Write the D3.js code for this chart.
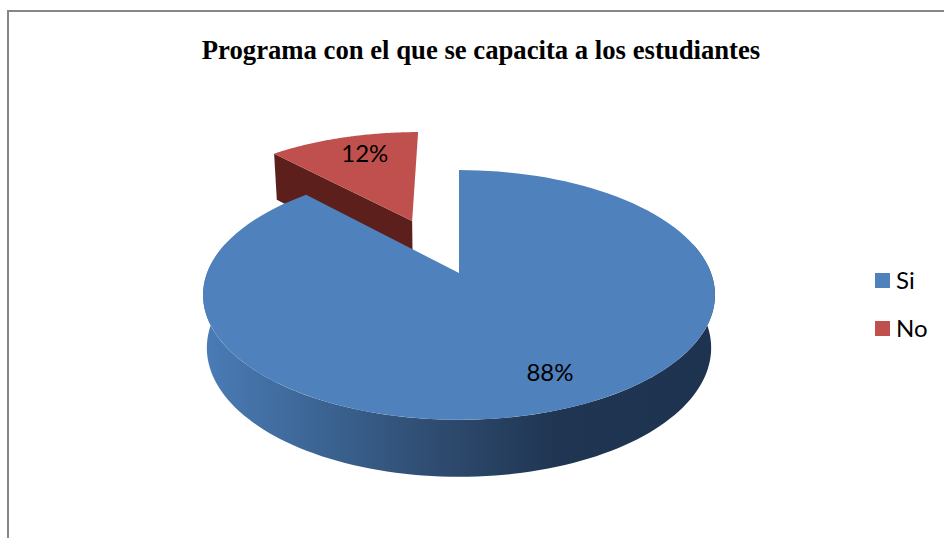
<!DOCTYPE html>
<html>
<head>
<meta charset="utf-8">
<style>
  body { margin: 0; background: #fff; }
  svg { display: block; }
  .title { font-family: "Liberation Serif", serif; font-weight: bold; font-size: 26.7px; fill: #000; text-anchor: middle; }
  .labels { font-family: Lato, sans-serif; font-size: 24px; fill: #000; text-anchor: middle; }
  .legend text { font-family: Lato, sans-serif; font-size: 24px; fill: #000; }
</style>
<script src="https://d3js.org/d3.v7.min.js"></script>
</head>
<body>
<svg width="944" height="538"></svg>
<script>
const categories = ["Si", "No"];
const values = [88, 12];
const labels = ["88%", "12%"];
const chartTitle = "Programa con el que se capacita a los estudiantes";

const svg = d3.select("svg");
const color = d3.scaleOrdinal().domain(categories).range(["#4f81bd", "#c0504d"]);
const wallColor = d3.scaleOrdinal().domain(categories).range(["url(#blueWall)", "#5c1f1b"]);

// pie sits on a tilted disc, so the circle goes through a perspective projection
const cx = 459, cy = 273, rx = 252, ry = 121, persp = 0.176;
const explode = { Si: 0, No: 0.5 };
const nudge = { Si: 0, No: -4 };

const arcs = d3.pie().sort(null).value(d => d)(values);
// mid angle of the pulled out slice, the offset runs along it
const off_mid = (arcs[1].startAngle + arcs[1].endAngle) / 2;

function project(a, r, name, low) {
  const off = explode[name];
  const s = r * Math.sin(a) + off * Math.sin(off_mid), t = -r * Math.cos(a) - off * Math.cos(off_mid);
  const w = 1 - persp * t;
  const shrink = low ? 0.985 : 1;
  return [
    cx + nudge[name] + shrink * rx * s / w,
    cy + ry * t / w + (low ? 52 + 5 * t : 0)
  ];
}

const line = d3.line();

function rim(a0, a1, name, low) {
  const n = 120;
  return d3.range(n + 1).map(i => project(a0 + (a1 - a0) * i / n, 1, name, low));
}

const defs = svg.append("defs");
const grad = defs.append("linearGradient")
  .attr("id", "blueWall")
  .attr("gradientUnits", "userSpaceOnUse")
  .attr("x1", cx - rx).attr("x2", cx + rx).attr("y1", 0).attr("y2", 0);
[[0, "#4a7bb5"], [0.2, "#3d6797"], [0.45, "#2f4c70"], [0.7, "#1f3551"], [1, "#1d3350"]]
  .forEach(d => grad.append("stop").attr("offset", d[0]).attr("stop-color", d[1]));

// frame, only top and left are visible in the picture
svg.append("path")
  .attr("d", "M8,538V11H944")
  .attr("fill", "none")
  .attr("stroke", "#868686")
  .attr("stroke-width", 2);

svg.append("text").attr("class", "title")
  .attr("x", 481).attr("y", 59)
  .text(chartTitle);

// red slice first, the blue top hides the lower part of its wall
const order = [1, 0];

order.forEach(i => {
  const d = arcs[i], name = categories[i];
  let wall;
  if (name == "No") {
    wall = [project(d.startAngle, 1, name, false), project(d.startAngle, 0, name, false),
            project(d.startAngle, 0, name, true), project(d.startAngle, 1, name, true)];
  } else {
    // only the front part of the rim shows its side
    const a0 = Math.PI * 0.42, a1 = Math.PI * 1.58;
    wall = rim(a0, a1, name, false).concat(rim(a0, a1, name, true).reverse());
  }
  svg.append("path")
    .attr("d", line(wall) + "Z")
    .attr("fill", wallColor(name));

  const top = [project(0, 0, name, false)].concat(rim(d.startAngle, d.endAngle, name, false));
  svg.append("path")
    .attr("d", line(top) + "Z")
    .attr("fill", color(name));
});

arcs.forEach((d, i) => {
  const mid = (d.startAngle + d.endAngle) / 2;
  const p = project(mid, 0.78, categories[i], false);
  svg.append("text").attr("class", "labels")
    .attr("x", p[0] + (i == 0 ? 8 : 8))
    .attr("y", p[1] - 1)
    .attr("dy", "0.36em")
    .text(labels[i]);
});

const legend = svg.append("g").attr("class", "legend")
  .selectAll("g").data(categories).enter().append("g")
  .attr("transform", (d, i) => "translate(875," + (273 + i * 48) + ")");
legend.append("rect").attr("width", 15).attr("height", 15).attr("fill", d => color(d));
legend.append("text").attr("x", 21).attr("y", 16).text(d => d);
</script>
</body>
</html>
